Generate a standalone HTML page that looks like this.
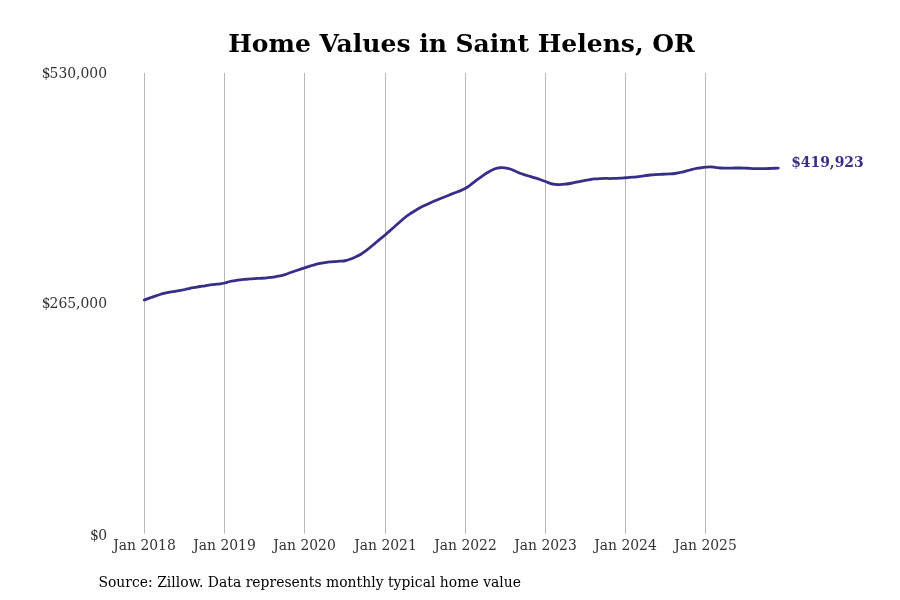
<!DOCTYPE html>
<html lang="en"><head><meta charset="utf-8"><title>Home Values in Saint Helens, OR</title>
<style>
html,body{margin:0;padding:0;background:#fff;}
body{width:900px;height:600px;overflow:hidden;font-family:"DejaVu Serif","Liberation Serif",serif;}
svg{display:block;font-family:"DejaVu Serif","Liberation Serif",serif;}
.title{font-size:25px;font-weight:bold;fill:#000;}
.tick{font-size:13.9px;fill:#333;}
.src{font-size:13.9px;fill:#000;}
.end{font-size:13.9px;font-weight:bold;fill:#372e8a;}
.grid line{stroke:#b8b8b8;stroke-width:1;}
</style></head>
<body>
<svg width="900" height="600" viewBox="0 0 900 600">
<rect width="900" height="600" fill="#fff"/>
<g class="grid"><line x1="144.5" y1="72.9" x2="144.5" y2="533.6" /><line x1="224.5" y1="72.9" x2="224.5" y2="533.6" /><line x1="304.5" y1="72.9" x2="304.5" y2="533.6" /><line x1="385.5" y1="72.9" x2="385.5" y2="533.6" /><line x1="465.5" y1="72.9" x2="465.5" y2="533.6" /><line x1="545.5" y1="72.9" x2="545.5" y2="533.6" /><line x1="625.5" y1="72.9" x2="625.5" y2="533.6" /><line x1="705.5" y1="72.9" x2="705.5" y2="533.6" /></g>
<path d="M144.30,300.00 C145.25,299.64 148.22,298.50 150.00,297.85 C151.78,297.20 153.33,296.63 155.00,296.07 C156.67,295.52 158.33,294.98 160.00,294.50 C161.67,294.02 163.33,293.58 165.00,293.20 C166.67,292.82 168.33,292.51 170.00,292.20 C171.67,291.89 173.33,291.65 175.00,291.35 C176.67,291.05 178.33,290.71 180.00,290.40 C181.67,290.09 183.33,289.85 185.00,289.50 C186.67,289.15 188.33,288.65 190.00,288.30 C191.67,287.95 193.33,287.70 195.00,287.40 C196.67,287.10 198.33,286.77 200.00,286.50 C201.67,286.23 203.33,286.03 205.00,285.77 C206.67,285.52 208.33,285.20 210.00,284.95 C211.67,284.70 213.33,284.49 215.00,284.30 C216.67,284.11 218.43,284.02 220.00,283.80 C221.57,283.58 222.73,283.38 224.40,283.00 C226.07,282.62 228.23,281.89 230.00,281.50 C231.77,281.11 233.33,280.92 235.00,280.65 C236.67,280.38 238.33,280.12 240.00,279.90 C241.67,279.68 243.33,279.52 245.00,279.35 C246.67,279.17 248.33,278.98 250.00,278.85 C251.67,278.72 253.33,278.64 255.00,278.55 C256.67,278.46 258.33,278.38 260.00,278.30 C261.67,278.22 263.33,278.19 265.00,278.05 C266.67,277.91 268.33,277.66 270.00,277.45 C271.67,277.24 273.33,277.05 275.00,276.80 C276.67,276.55 278.33,276.32 280.00,275.95 C281.67,275.58 283.33,275.13 285.00,274.60 C286.67,274.07 288.33,273.35 290.00,272.75 C291.67,272.15 293.33,271.57 295.00,271.00 C296.67,270.43 298.42,269.83 300.00,269.30 C301.58,268.77 302.83,268.33 304.50,267.80 C306.17,267.27 308.25,266.64 310.00,266.10 C311.75,265.56 313.33,265.00 315.00,264.55 C316.67,264.10 318.33,263.72 320.00,263.40 C321.67,263.07 323.33,262.84 325.00,262.60 C326.67,262.36 328.33,262.12 330.00,261.95 C331.67,261.77 333.33,261.68 335.00,261.55 C336.67,261.42 338.33,261.28 340.00,261.15 C341.67,261.02 343.33,261.06 345.00,260.75 C346.67,260.44 348.33,259.88 350.00,259.29 C351.67,258.69 353.33,257.95 355.00,257.20 C356.67,256.45 358.33,255.76 360.00,254.80 C361.67,253.84 363.33,252.66 365.00,251.45 C366.67,250.24 368.33,248.87 370.00,247.53 C371.67,246.18 373.33,244.76 375.00,243.36 C376.67,241.97 378.25,240.59 380.00,239.15 C381.75,237.71 383.83,236.13 385.50,234.70 C387.17,233.28 388.42,232.00 390.00,230.60 C391.58,229.20 393.33,227.78 395.00,226.30 C396.67,224.83 398.33,223.22 400.00,221.75 C401.67,220.28 403.33,218.82 405.00,217.50 C406.67,216.18 408.33,214.98 410.00,213.85 C411.67,212.72 413.33,211.71 415.00,210.70 C416.67,209.69 418.33,208.70 420.00,207.80 C421.67,206.90 423.33,206.11 425.00,205.30 C426.67,204.49 428.33,203.71 430.00,202.95 C431.67,202.19 433.33,201.45 435.00,200.75 C436.67,200.05 438.33,199.42 440.00,198.75 C441.67,198.08 443.33,197.42 445.00,196.75 C446.67,196.08 448.33,195.42 450.00,194.75 C451.67,194.08 453.33,193.40 455.00,192.75 C456.67,192.10 458.25,191.59 460.00,190.85 C461.75,190.11 463.83,189.26 465.50,188.34 C467.17,187.41 468.42,186.46 470.00,185.30 C471.58,184.14 473.33,182.62 475.00,181.35 C476.67,180.08 478.33,178.91 480.00,177.70 C481.67,176.49 483.33,175.18 485.00,174.10 C486.67,173.02 488.33,172.11 490.00,171.21 C491.67,170.31 493.33,169.30 495.00,168.72 C496.67,168.15 498.33,167.90 500.00,167.75 C501.67,167.60 503.33,167.64 505.00,167.85 C506.67,168.06 508.33,168.47 510.00,169.00 C511.67,169.53 513.33,170.30 515.00,171.00 C516.67,171.70 518.33,172.56 520.00,173.20 C521.67,173.84 523.33,174.33 525.00,174.86 C526.67,175.40 528.33,175.89 530.00,176.40 C531.67,176.91 533.33,177.38 535.00,177.90 C536.67,178.42 538.25,178.89 540.00,179.50 C541.75,180.11 543.83,180.89 545.50,181.54 C547.17,182.19 548.42,182.92 550.00,183.40 C551.58,183.88 553.33,184.25 555.00,184.45 C556.67,184.65 558.33,184.64 560.00,184.60 C561.67,184.56 563.33,184.38 565.00,184.20 C566.67,184.02 568.33,183.80 570.00,183.50 C571.67,183.20 573.33,182.77 575.00,182.43 C576.67,182.08 578.33,181.78 580.00,181.45 C581.67,181.12 583.33,180.77 585.00,180.45 C586.67,180.13 588.33,179.80 590.00,179.55 C591.67,179.30 593.33,179.13 595.00,178.98 C596.67,178.82 598.33,178.70 600.00,178.60 C601.67,178.50 603.33,178.41 605.00,178.40 C606.67,178.39 608.33,178.56 610.00,178.55 C611.67,178.54 613.33,178.39 615.00,178.33 C616.67,178.27 618.25,178.29 620.00,178.19 C621.75,178.09 623.83,177.89 625.50,177.75 C627.17,177.61 628.42,177.45 630.00,177.33 C631.58,177.21 633.33,177.17 635.00,177.02 C636.67,176.86 638.33,176.62 640.00,176.40 C641.67,176.17 643.33,175.90 645.00,175.67 C646.67,175.44 648.33,175.19 650.00,175.01 C651.67,174.82 653.33,174.66 655.00,174.55 C656.67,174.44 658.33,174.38 660.00,174.33 C661.67,174.27 663.33,174.26 665.00,174.20 C666.67,174.14 668.33,174.08 670.00,173.97 C671.67,173.85 673.33,173.74 675.00,173.50 C676.67,173.26 678.33,172.87 680.00,172.50 C681.67,172.13 683.33,171.72 685.00,171.30 C686.67,170.88 688.33,170.43 690.00,170.00 C691.67,169.57 693.33,169.08 695.00,168.75 C696.67,168.42 698.25,168.26 700.00,168.00 C701.75,167.74 703.83,167.39 705.50,167.19 C707.17,166.99 708.42,166.78 710.00,166.80 C711.58,166.82 713.33,167.10 715.00,167.30 C716.67,167.50 718.33,167.85 720.00,168.00 C721.67,168.15 723.33,168.17 725.00,168.20 C726.67,168.22 728.33,168.18 730.00,168.15 C731.67,168.12 733.33,168.03 735.00,168.00 C736.67,167.97 738.33,167.98 740.00,168.00 C741.67,168.02 743.33,168.03 745.00,168.10 C746.67,168.17 748.33,168.32 750.00,168.40 C751.67,168.48 753.33,168.56 755.00,168.60 C756.67,168.64 758.33,168.64 760.00,168.65 C761.67,168.66 763.33,168.68 765.00,168.65 C766.67,168.62 768.33,168.57 770.00,168.50 C771.67,168.43 773.62,168.32 775.00,168.25 C776.38,168.18 777.75,168.08 778.30,168.05" fill="none" stroke="#372e8a" stroke-width="2.8" stroke-linejoin="round" stroke-linecap="round"/>
<text class="title" x="461.5" y="52" text-anchor="middle">Home Values in Saint Helens, OR</text>
<g class="tick">
<text x="107" y="78" text-anchor="end"><tspan letter-spacing="-1">$</tspan>530,000</text>
<text x="107" y="308" text-anchor="end"><tspan letter-spacing="-1">$</tspan>265,000</text>
<text x="107" y="540" text-anchor="end"><tspan letter-spacing="-0.6">$</tspan>0</text>
<text x="144.5" y="550" text-anchor="middle">Jan 2018</text><text x="224.5" y="550" text-anchor="middle">Jan 2019</text><text x="304.5" y="550" text-anchor="middle">Jan 2020</text><text x="385.5" y="550" text-anchor="middle">Jan 2021</text><text x="465.5" y="550" text-anchor="middle">Jan 2022</text><text x="545.5" y="550" text-anchor="middle">Jan 2023</text><text x="625.5" y="550" text-anchor="middle">Jan 2024</text><text x="705.5" y="550" text-anchor="middle">Jan 2025</text>
</g>
<text class="end" x="791.2" y="166.8">$419,923</text>
<text class="src" x="98.4" y="587" textLength="422.6" lengthAdjust="spacing">Source: Zillow. Data represents monthly typical home value</text>
</svg>
</body></html>
